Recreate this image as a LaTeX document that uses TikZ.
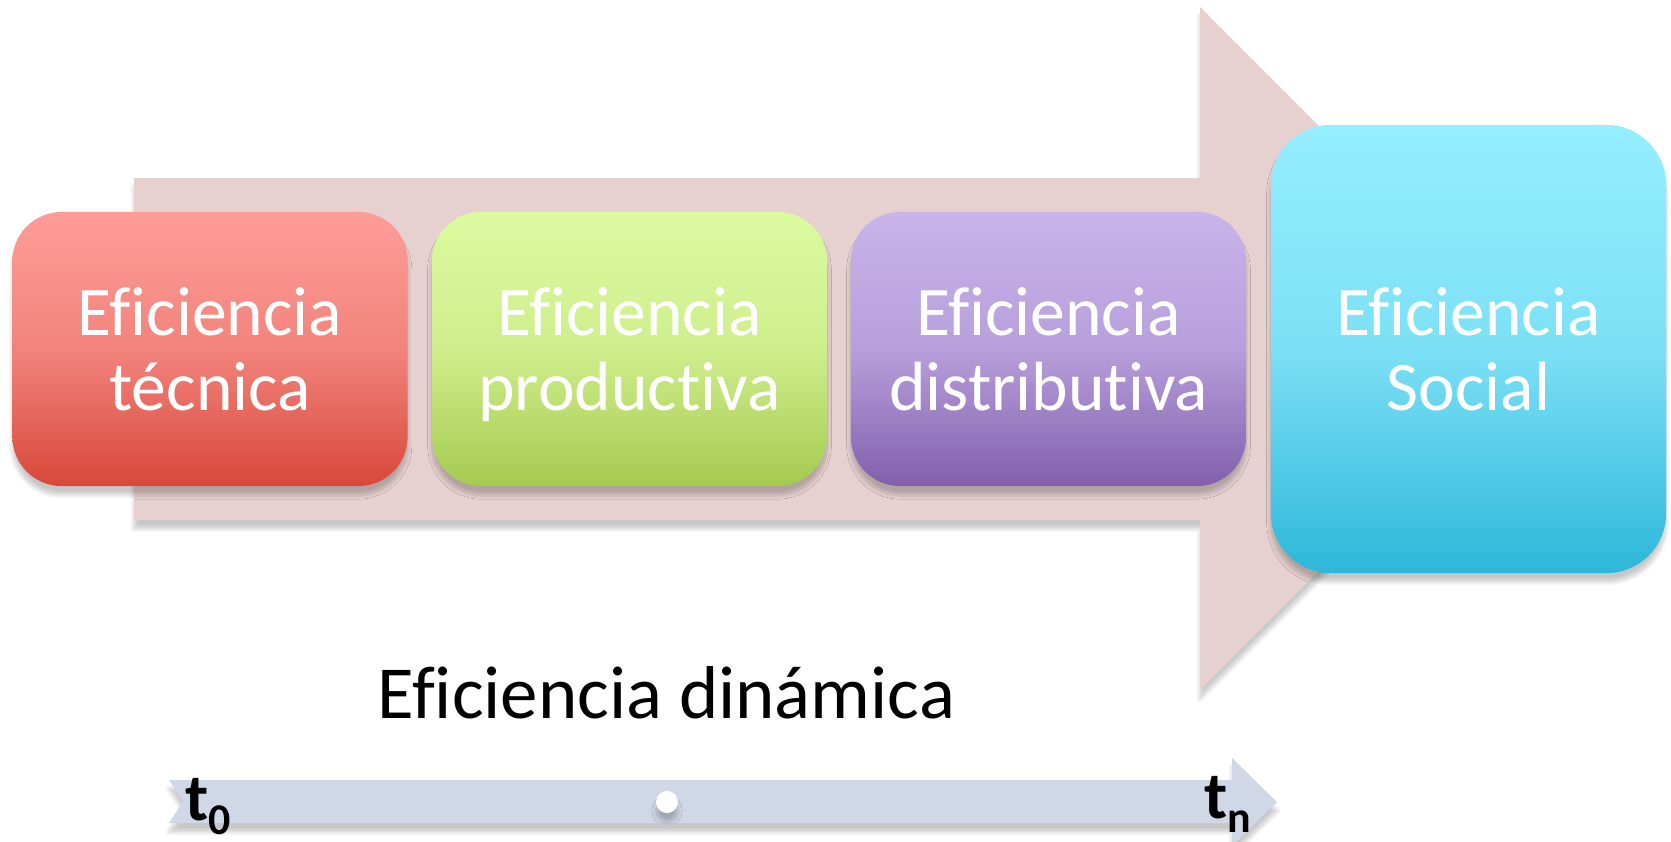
\documentclass[tikz,border=0pt]{standalone}
\usepackage{fontspec}
\setmainfont{Carlito}[Ligatures=NoCommon]
\usetikzlibrary{shadows.blur}

\definecolor{bandpink}{RGB}{230,208,208}
\definecolor{timeblue}{RGB}{208,216,232}
\definecolor{tecTop}{RGB}{253,157,152}
\definecolor{tecBot}{RGB}{216,72,58}
\definecolor{proTop}{RGB}{220,250,160}
\definecolor{proBot}{RGB}{165,202,80}
\definecolor{disTop}{RGB}{201,180,235}
\definecolor{disBot}{RGB}{130,95,172}
\definecolor{socTop}{RGB}{150,238,255}
\definecolor{socBot}{RGB}{45,183,217}

\begin{document}
\begin{tikzpicture}[x=0.01cm,y=-0.01cm,
    softshadow/.style={blur shadow={shadow xshift=0pt,shadow yshift=-2.5pt,shadow blur radius=1.2pt,shadow blur steps=10,shadow opacity=22}},
    effbox/.style={softshadow,rounded corners=14pt,minimum width=3.95cm,minimum height=2.74cm,
        inner sep=0pt,align=center,text=white,text depth=0pt,font=\fontsize{19.8}{21.3}\selectfont},
    timelabel/.style={anchor=base west,inner sep=0pt,font=\fontsize{19}{19}\selectfont\bfseries}]
    \useasboundingbox (0,0) rectangle (1671,841);

    % flecha grande
    \fill[bandpink,softshadow] (134,178) -- (1200,178) -- (1200,7) -- (1541,348.5)
        -- (1200,690) -- (1200,520) -- (134,520) -- cycle;

    \node[effbox,top color=tecTop,bottom color=tecBot,middle color=tecTop!70!tecBot] (tecnica) at (210,349) {Eficiencia\\técnica};
    \node[effbox,top color=proTop,bottom color=proBot,middle color=proTop!75!proBot] (productiva) at (629.5,349) {Eficiencia\\productiva};
    \node[effbox,top color=disTop,bottom color=disBot,middle color=disTop!75!disBot] (distributiva) at (1048.5,349) {Eficiencia\\distributiva};
    \node[effbox,rounded corners=17pt,minimum height=4.48cm,top color=socTop,bottom color=socBot,middle color=socTop!75!socBot] (social) at (1468.5,349) {Eficiencia\\Social};

    \node[anchor=base,inner sep=0pt,font=\fontsize{21.3}{21.3}\selectfont] (dinamica) at (666.5,718) {Eficiencia dinámica};

    % eje de tiempo
    \fill[timeblue,softshadow] (169,780) -- (1232,780) -- (1232,758) -- (1277,802)
        -- (1232,846) -- (1232,823) -- (169,823) -- (183,801.5) -- cycle;
    \node[circle,fill=white,minimum size=0.22cm,inner sep=0pt,softshadow] (medio) at (667,802) {};
    \node[timelabel] (t0) at (185,820) {t\raisebox{-4pt}{\fontsize{12.5}{12.5}\selectfont 0}};
    \node[timelabel] (tn) at (1204,818) {t\raisebox{-4pt}{\fontsize{12.5}{12.5}\selectfont n}};
\end{tikzpicture}
\end{document}
